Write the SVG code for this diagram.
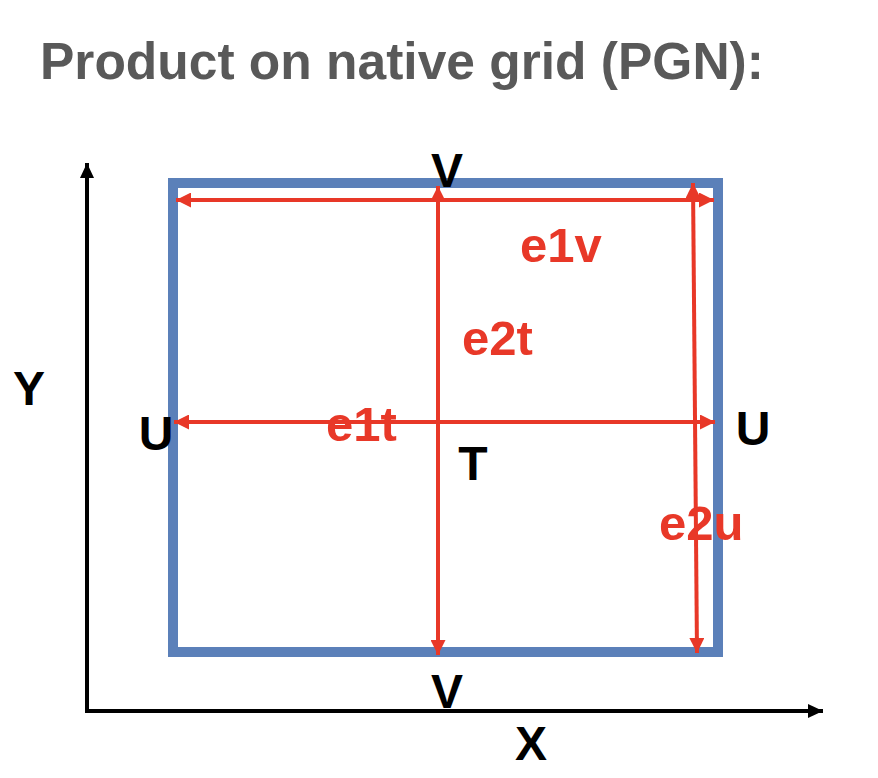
<svg xmlns="http://www.w3.org/2000/svg" width="878" height="778" viewBox="0 0 878 778">
<defs>
<style>
.title{font-family:"Liberation Sans",Arial,sans-serif;font-weight:bold;font-size:51.5px;fill:#595959}
.lbl{font-family:"Liberation Sans",Arial,sans-serif;font-weight:bold;font-size:48px;fill:#000;text-anchor:middle}
.red{font-family:"Liberation Sans",Arial,sans-serif;font-weight:bold;font-size:49px;fill:#e83828}
.rl{stroke:#e83828;stroke-width:4;fill:none;marker-start:url(#ra);marker-end:url(#ra)}
.ax{stroke:#000;stroke-width:4;fill:none;marker-end:url(#ba)}
</style>
<marker id="ra" markerUnits="userSpaceOnUse" markerWidth="15" markerHeight="15" refX="15" refY="7.5" orient="auto-start-reverse" viewBox="0 0 15 15">
<path d="M0,0 L15,7.5 L0,15 z" fill="#e83828"/>
</marker>
<marker id="ba" markerUnits="userSpaceOnUse" markerWidth="15" markerHeight="14" refX="15" refY="7" orient="auto" viewBox="0 0 15 14">
<path d="M0,0 L15,7 L0,14 z" fill="#000"/>
</marker>
</defs>
<rect width="878" height="778" fill="#fff"/>
<text class="title" x="40" y="79">Product on native grid (PGN):</text>
<g id="axes">
<line class="ax" x1="87" y1="713" x2="87" y2="163"/>
<line class="ax" x1="85" y1="711" x2="823" y2="711"/>
</g>
<g id="cell">
<rect x="173" y="183" width="545" height="469" fill="none" stroke="#5b80b9" stroke-width="10"/>
</g>
<g id="connectors">
<line class="rl" x1="176" y1="200" x2="714" y2="200"/>
<line class="rl" x1="438" y1="186" x2="438" y2="655"/>
<line class="rl" x1="693" y1="183" x2="697" y2="653"/>
<line class="rl" x1="174" y1="422" x2="715" y2="422"/>
</g>
<g id="labels">
<text class="lbl" x="447" y="187">V</text>
<text class="lbl" x="447" y="708">V</text>
<text class="lbl" x="156" y="450">U</text>
<text class="lbl" x="753" y="445">U</text>
<text class="lbl" x="473" y="480">T</text>
<text class="lbl" x="29" y="405">Y</text>
<text class="lbl" x="531" y="760">X</text>
</g>
<g id="edge-labels">
<text class="red" x="520" y="262">e1v</text>
<text class="red" x="462" y="355">e2t</text>
<text class="red" x="326" y="441">e1t</text>
<text class="red" x="659" y="540">e2u</text>
</g>
</svg>
